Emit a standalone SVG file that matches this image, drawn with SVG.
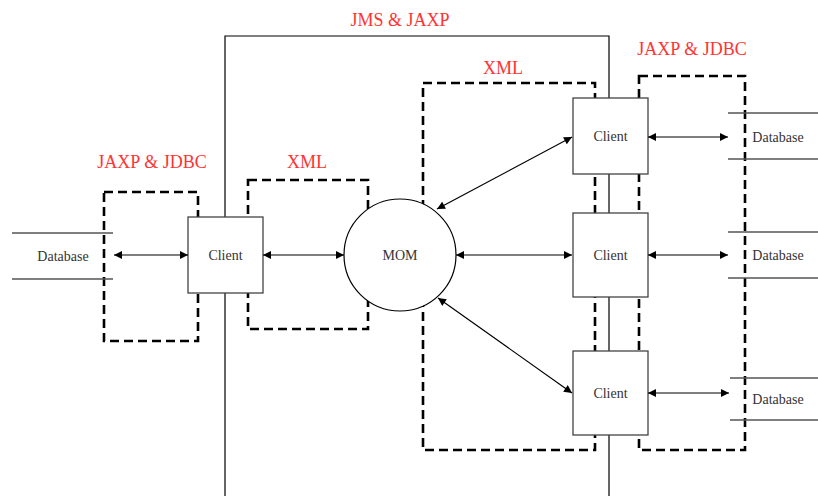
<svg xmlns="http://www.w3.org/2000/svg" width="818" height="496" viewBox="0 0 818 496">
<style>
.frame{fill:none;stroke:#000;stroke-width:1.2}
.dash{fill:none;stroke:#000;stroke-width:2.6;stroke-dasharray:9,5}
.box{fill:#fff;stroke:#444;stroke-width:1.3}
.dbl{stroke:#555;stroke-width:1.3}
.lbl{font-family:"Liberation Serif","Times New Roman",serif;font-size:14px;fill:#333;text-anchor:middle}
.red{font-family:"Liberation Serif","Times New Roman",serif;font-size:18px;fill:#ff3333;text-anchor:middle}
.con{stroke:#000;stroke-width:1.2;fill:none;marker-start:url(#ah);marker-end:url(#ah)}
</style>
<defs>
<marker id="ah" viewBox="0 0 10 10" refX="10" refY="5" markerWidth="10" markerHeight="8" markerUnits="userSpaceOnUse" orient="auto-start-reverse">
<path d="M0,0 L10,5 L0,10 Z" fill="#000"/>
</marker>
</defs>
<rect width="818" height="496" fill="#fff"/>
<g id="frames">
<path class="frame" d="M225,496 V36 H609 V496"/>
<rect class="dash" x="104" y="192" width="94" height="149"/>
<rect class="dash" x="248" y="180" width="120" height="149"/>
<rect class="dash" x="423" y="83" width="172" height="367"/>
<rect class="dash" x="639" y="76" width="106" height="374"/>
</g>
<g id="labels">
<text class="red" x="400" y="26">JMS &amp; JAXP</text>
<text class="red" x="152" y="168">JAXP &amp; JDBC</text>
<text class="red" x="307" y="168">XML</text>
<text class="red" x="503" y="74">XML</text>
<text class="red" x="692" y="55">JAXP &amp; JDBC</text>
</g>
<g id="nodes">
<g id="db-left">
<line class="dbl" x1="12" y1="233" x2="113" y2="233"/>
<line class="dbl" x1="12" y1="279" x2="113" y2="279"/>
<text class="lbl" x="63" y="261">Database</text>
</g>
<g id="client-left">
<rect class="box" x="188" y="217" width="75" height="76"/>
<text class="lbl" x="225.5" y="260">Client</text>
</g>
<g id="mom">
<circle cx="400" cy="255" r="56" fill="#fff" stroke="#000" stroke-width="1.2"/>
<text class="lbl" x="400" y="260">MOM</text>
</g>
<g id="client-1">
<rect class="box" x="573" y="98" width="75" height="76"/>
<text class="lbl" x="610.5" y="141">Client</text>
</g>
<g id="client-2">
<rect class="box" x="573" y="213" width="75" height="84"/>
<text class="lbl" x="610.5" y="260">Client</text>
</g>
<g id="client-3">
<rect class="box" x="573" y="351" width="75" height="84"/>
<text class="lbl" x="610.5" y="398">Client</text>
</g>
<g id="db-1">
<line class="dbl" x1="728" y1="113" x2="818" y2="113"/>
<line class="dbl" x1="728" y1="159" x2="818" y2="159"/>
<text class="lbl" x="778" y="142">Database</text>
</g>
<g id="db-2">
<line class="dbl" x1="728" y1="232" x2="818" y2="232"/>
<line class="dbl" x1="728" y1="278" x2="818" y2="278"/>
<text class="lbl" x="778" y="260">Database</text>
</g>
<g id="db-3">
<line class="dbl" x1="730" y1="378" x2="818" y2="378"/>
<line class="dbl" x1="730" y1="420" x2="818" y2="420"/>
<text class="lbl" x="778" y="404">Database</text>
</g>
</g>
<g id="connectors">
<line class="con" x1="114" y1="255" x2="188" y2="255"/>
<line class="con" x1="263" y1="255" x2="344" y2="255"/>
<line class="con" x1="437" y1="209" x2="572" y2="137"/>
<line class="con" x1="456" y1="255" x2="572" y2="255"/>
<line class="con" x1="438" y1="298" x2="572" y2="393"/>
<line class="con" x1="648" y1="137" x2="728" y2="137"/>
<line class="con" x1="648" y1="255" x2="728" y2="255"/>
<line class="con" x1="648" y1="393" x2="729" y2="393"/>
</g>
</svg>
